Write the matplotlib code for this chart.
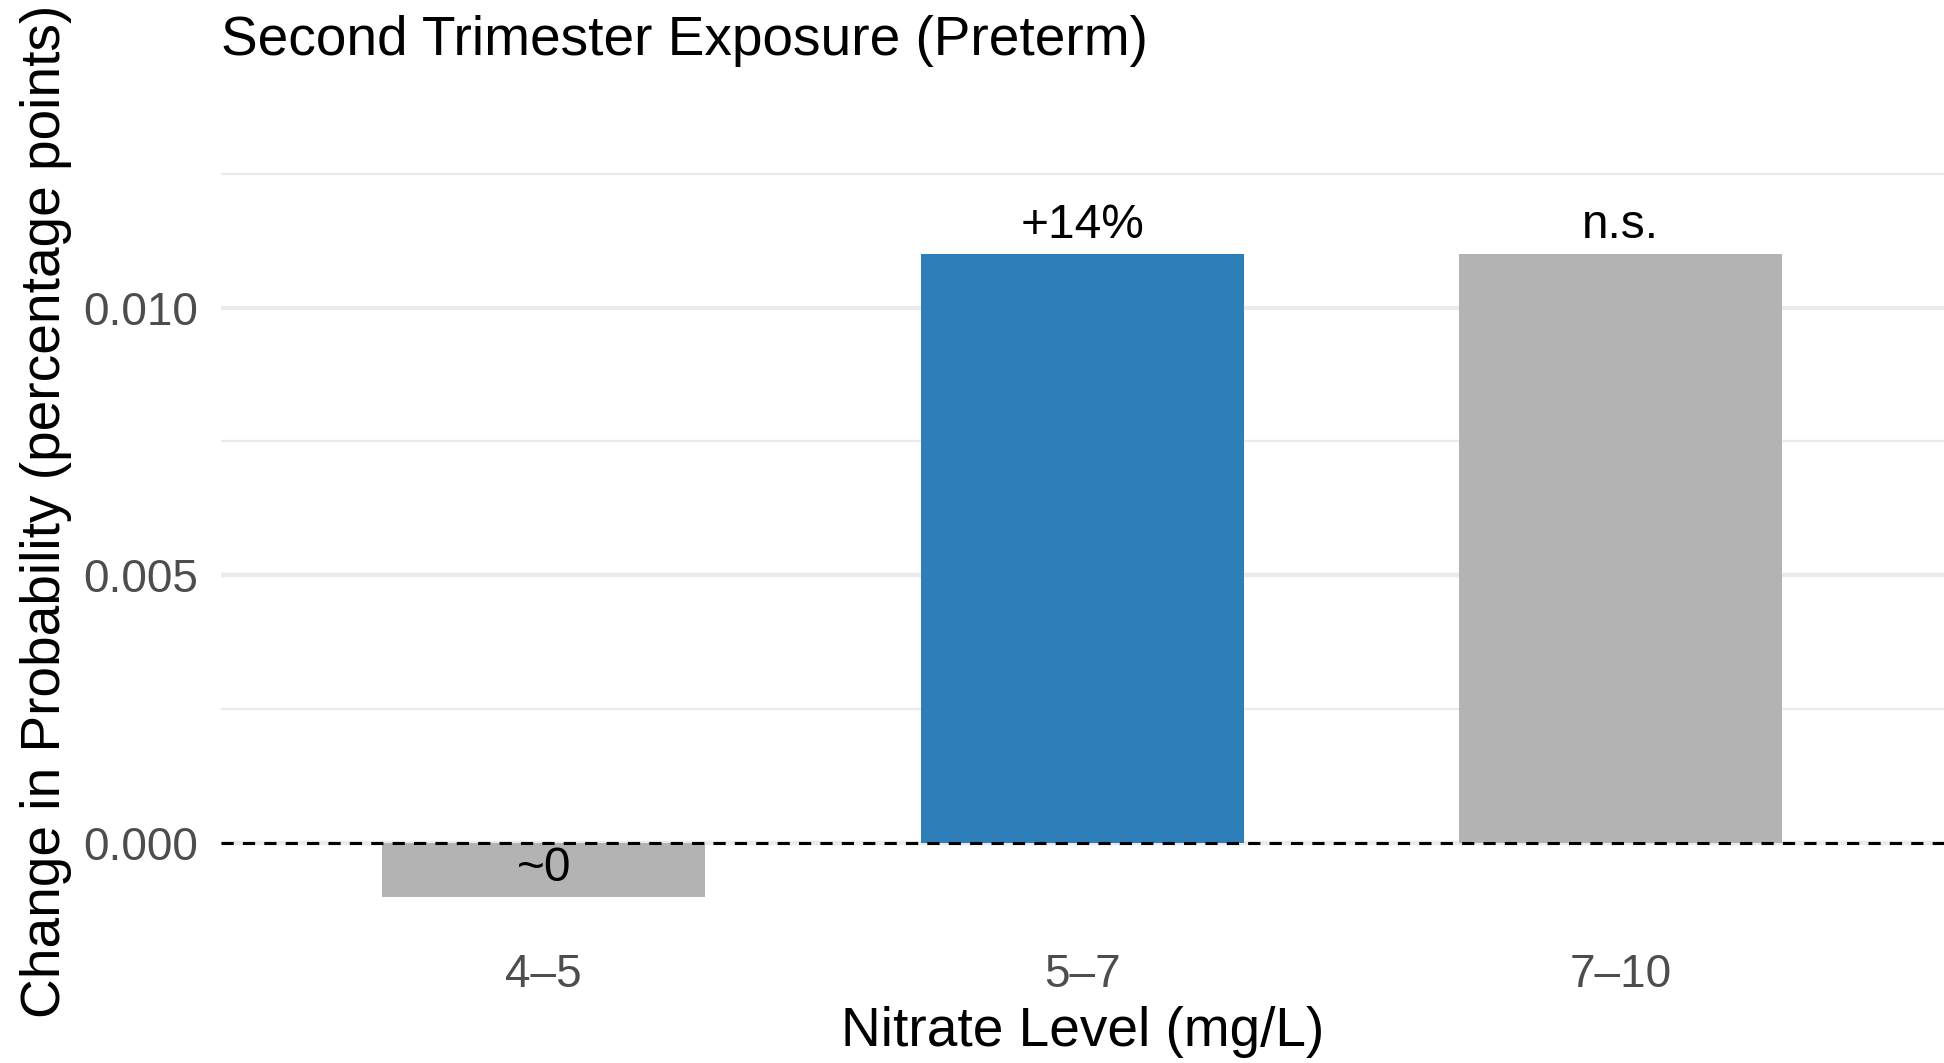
import matplotlib
matplotlib.use("Agg")
import matplotlib.pyplot as plt

plt.rcParams['font.family'] = ['Liberation Sans', 'DejaVu Sans']

# data
categories = ["4–5", "5–7", "7–10"]
changes = [-0.001, 0.011, 0.011]
labels = ["~0", "+14%", "n.s."]
bar_colors = ["#B3B3B3", "#2E7EBA", "#B3B3B3"]

fig = plt.figure(figsize=(9.72, 5.315), dpi=200)
ax = fig.add_axes([0.1135, 0.111, 0.8865, 0.766])

x = list(range(1, len(categories) + 1))
ax.bar(x, changes, width=0.6, color=bar_colors, zorder=2)

for xi, v, lab in zip(x, changes, labels):
    ax.annotate(lab, (xi, v), xytext=(0, 5.8), textcoords='offset points',
                ha='center', va='baseline', fontsize=17.2, color='black', zorder=3)

ax.axhline(0, color='black', linestyle=(0, (4, 3)), linewidth=1.1, zorder=3)

ax.set_xlim(0.4, 3.6)
ax.set_ylim(-0.0019, 0.0133)
ax.set_xticks(x)
ax.set_xticklabels(categories)
ax.set_yticks([0.0, 0.005, 0.010])
ax.set_yticklabels(["0.000", "0.005", "0.010"])
ax.set_yticks([0.0025, 0.0075, 0.0125], minor=True)

ax.grid(axis='y', which='major', color='#EBEBEB', linewidth=1.6, zorder=0)
ax.grid(axis='y', which='minor', color='#EBEBEB', linewidth=0.8, zorder=0)
ax.grid(axis='x', visible=False)
for s in ax.spines.values():
    s.set_visible(False)
ax.tick_params(axis='both', which='both', length=0, labelsize=16.5, labelcolor='#4D4D4D')
ax.tick_params(axis='x', pad=3)
ax.tick_params(axis='y', pad=8)

ax.set_xlabel("Nitrate Level (mg/L)", fontsize=19.8, labelpad=3)
ax.set_ylabel("Change in Probability (percentage points)", fontsize=19.8)
ax.yaxis.set_label_coords(-0.0865, 0.533)
fig.text(220.7 / 1944, 1 - 41 / 1063, "Second Trimester Exposure (Preterm)",
         fontsize=19.8, ha='left', va='center')

fig.savefig("out.png", dpi=200)
